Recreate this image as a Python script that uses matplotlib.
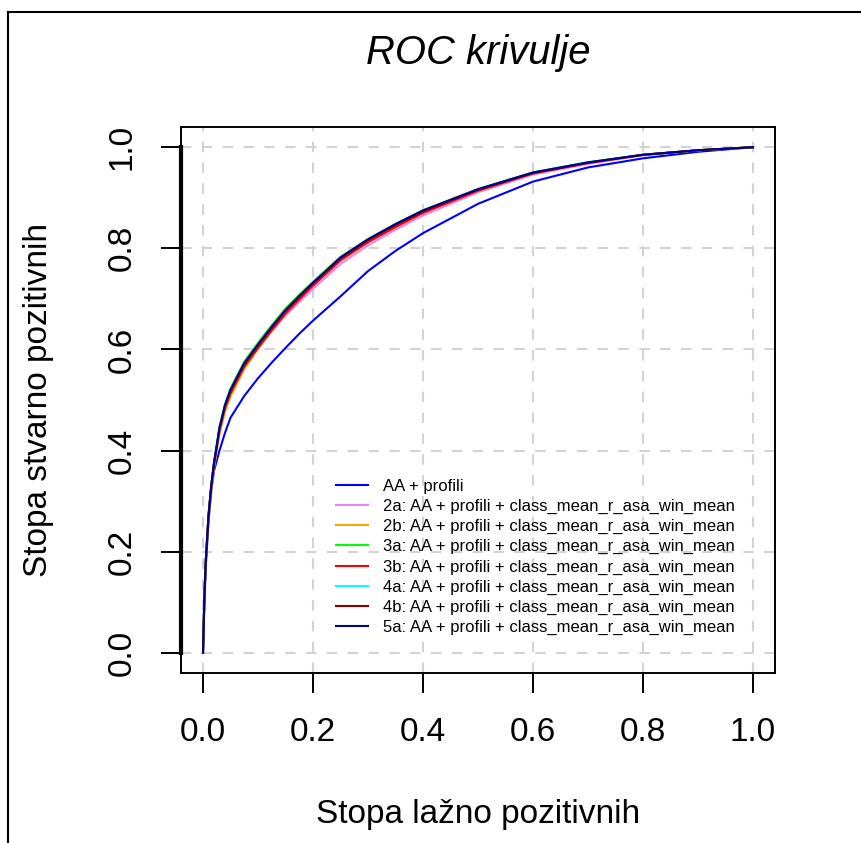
import matplotlib
matplotlib.use('Agg')
import matplotlib.pyplot as plt
from matplotlib.lines import Line2D

plt.rcParams['font.family'] = ['Liberation Sans', 'DejaVu Sans']

# FPR points shared by all curves
fpr = [0, 0.0025, 0.005, 0.01, 0.015, 0.02, 0.03, 0.04, 0.05, 0.075, 0.1, 0.125, 0.15, 0.175,
       0.2, 0.25, 0.3, 0.35, 0.4, 0.5, 0.6, 0.7, 0.8, 0.9, 1.0]

tpr_base = [0, 0.10, 0.17, 0.26, 0.32, 0.36, 0.40, 0.435, 0.465, 0.508, 0.543, 0.574, 0.603, 0.631,
            0.657, 0.705, 0.755, 0.795, 0.83, 0.888, 0.932, 0.96, 0.978, 0.991, 1.0]
tpr_2a = [0, 0.115, 0.185, 0.275, 0.333, 0.376, 0.444, 0.487, 0.516, 0.567, 0.603, 0.636, 0.667, 0.694,
          0.72, 0.769, 0.806, 0.837, 0.865, 0.911, 0.946, 0.967, 0.984, 0.994, 1.0]
tpr_2b = [0, 0.10, 0.17, 0.26, 0.32, 0.365, 0.432, 0.477, 0.507, 0.562, 0.601, 0.638, 0.672, 0.701,
          0.728, 0.779, 0.816, 0.847, 0.875, 0.917, 0.95, 0.97, 0.985, 0.994, 1.0]
tpr_3a = [0, 0.11, 0.18, 0.27, 0.33, 0.376, 0.447, 0.492, 0.523, 0.576, 0.613, 0.648, 0.681, 0.708,
          0.734, 0.783, 0.818, 0.848, 0.875, 0.917, 0.95, 0.97, 0.985, 0.994, 1.0]
tpr_3b = [0, 0.11, 0.18, 0.27, 0.328, 0.372, 0.44, 0.484, 0.513, 0.566, 0.603, 0.638, 0.671, 0.699,
          0.726, 0.776, 0.812, 0.842, 0.87, 0.914, 0.948, 0.969, 0.985, 0.994, 1.0]
tpr_4a = [0, 0.11, 0.18, 0.27, 0.33, 0.375, 0.444, 0.489, 0.519, 0.572, 0.609, 0.644, 0.677, 0.705,
          0.731, 0.781, 0.817, 0.847, 0.874, 0.917, 0.95, 0.97, 0.985, 0.994, 1.0]
tpr_4b = [0, 0.11, 0.18, 0.27, 0.33, 0.374, 0.443, 0.488, 0.518, 0.571, 0.608, 0.643, 0.676, 0.704,
          0.73, 0.78, 0.816, 0.846, 0.873, 0.916, 0.949, 0.969, 0.985, 0.994, 1.0]
tpr_5a = [0, 0.11, 0.18, 0.27, 0.33, 0.375, 0.445, 0.49, 0.52, 0.573, 0.61, 0.645, 0.678, 0.706,
          0.732, 0.782, 0.818, 0.848, 0.875, 0.917, 0.95, 0.97, 0.985, 0.994, 1.0]

suffix = ": AA + profili + class_mean_r_asa_win_mean"
labels = ["AA + profili", "2a" + suffix, "2b" + suffix, "3a" + suffix,
          "3b" + suffix, "4a" + suffix, "4b" + suffix, "5a" + suffix]
colors = ["#0000FF", "#EE82EE", "#FFA500", "#00FF00", "#FF0000", "#00FFFF", "#8B0000", "#00008B"]
series = [tpr_base, tpr_2a, tpr_2b, tpr_3a, tpr_3b, tpr_4a, tpr_4b, tpr_5a]

ticks = [0.0, 0.2, 0.4, 0.6, 0.8, 1.0]
tick_labels = ["0.0", "0.2", "0.4", "0.6", "0.8", "1.0"]

W, H = 862, 843
fig = plt.figure(figsize=(W / 100, H / 100), dpi=100)
ax = fig.add_axes([181 / W, 1 - 673 / H, 594 / W, 546 / H])

for t in ticks:
    ax.axvline(t, color="#D3D3D3", lw=1.5, dashes=(5, 5), zorder=1)
    ax.axhline(t, color="#D3D3D3", lw=1.5, dashes=(5, 5), zorder=1)

for tpr, c, lab in zip(series, colors, labels):
    ax.plot(fpr, tpr, color=c, lw=1.5, label=lab, zorder=3)

ax.set_xlim(-0.04, 1.04)
ax.set_ylim(-0.04, 1.04)
ax.set_xticks(ticks)
ax.set_xticklabels(tick_labels)
ax.set_yticks(ticks)
ax.set_yticklabels(tick_labels, rotation=90, va="center")
ax.tick_params(axis="both", direction="out", length=14.4, width=1.4, labelsize=24, pad=17)
for s in ax.spines.values():
    s.set_linewidth(1.4)
# R draws the axis line on top of the box between first and last tick
ax.plot([-0.04, -0.04], [0, 1], color="black", lw=3, clip_on=False, zorder=5)

ax.legend(loc="upper left", bbox_to_anchor=(0.261, 0.3553), frameon=False, fontsize=12,
          handlelength=1.92, handletextpad=0.9, labelspacing=0.3, borderpad=0, borderaxespad=0)

fig.text(478 / W, 1 - 64 / H, "ROC krivulje", fontsize=28.8, style="italic", ha="center", va="baseline")
fig.text(478 / W, 1 - 823 / H, "Stopa lažno pozitivnih", fontsize=24, ha="center", va="baseline")
fig.text(39 / W, 1 - 400 / H, "Stopa stvarno pozitivnih", fontsize=24, rotation=90, ha="center", va="center")

# outer frame (left and top edges visible)
fig.add_artist(Line2D([8 / W, 8 / W], [0, 1 - 12 / H], color="black", lw=1.5, transform=fig.transFigure))
fig.add_artist(Line2D([8 / W, 1], [1 - 12 / H, 1 - 12 / H], color="black", lw=1.5, transform=fig.transFigure))

fig.savefig("out.png", dpi=100)
